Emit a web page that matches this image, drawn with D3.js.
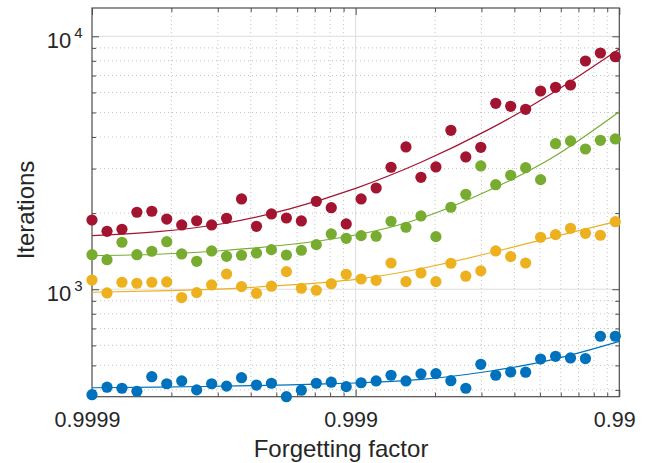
<!DOCTYPE html>
<html>
<head>
<meta charset="utf-8">
<script src="https://cdn.jsdelivr.net/npm/d3@7"></script>
<style>
  body { margin: 0; background: #fff; }
  svg { display: block; }
  text { font-family: "Liberation Sans", Arial, Helvetica, sans-serif; fill: #262626; }
</style>
</head>
<body>
<svg id="chart" width="647" height="463"></svg>
<script>
// 1 - forgetting factor for each run (log-spaced)
const oneMinusLambda = [
  1.000e-4, 1.140e-4, 1.299e-4, 1.480e-4, 1.686e-4, 1.921e-4, 2.189e-4, 2.495e-4, 2.843e-4,
  3.239e-4, 3.691e-4, 4.206e-4, 4.793e-4, 5.462e-4, 6.224e-4, 7.092e-4, 8.082e-4, 9.209e-4,
  1.049e-3, 1.196e-3, 1.362e-3, 1.552e-3, 1.769e-3, 2.016e-3, 2.297e-3, 2.617e-3, 2.983e-3,
  3.399e-3, 3.873e-3, 4.413e-3, 5.029e-3, 5.731e-3, 6.530e-3, 7.441e-3, 8.479e-3, 9.657e-3
];

// Iterations per run, one array per configuration
const itersBlue = [
  383, 410, 406, 395, 451, 423, 434, 400, 423, 414, 447, 418, 425, 376, 399, 425, 429, 412,
  427, 434, 457, 434, 463, 464, 435, 406, 505, 457, 471, 470, 530, 543, 535, 532, 652, 652
];
const itersYellow = [
  1088, 967, 1066, 1056, 1066, 1069, 927, 970, 1040, 1149, 1024, 964, 1028, 1174, 1009, 991, 1052, 1146,
  1098, 1085, 1270, 1072, 1160, 1072, 1267, 1126, 1182, 1417, 1346, 1270, 1605, 1644, 1742, 1664, 1635, 1850
];
const itersGreen = [
  1370, 1309, 1534, 1370, 1413, 1542, 1379, 1290, 1417, 1350, 1363, 1392, 1434, 1366, 1426, 1501, 1654, 1590,
  1629, 1620, 1857, 1758, 1949, 1614, 2110, 2374, 3073, 2591, 2822, 3024, 2712, 3763, 3857, 3585, 3881, 3928
];
const itersRed = [
  1878, 1695, 1727, 2016, 2034, 1895, 1796, 1866, 1796, 1908, 2275, 1774, 1985, 1913, 1862, 2227, 2101, 1812,
  2275, 2514, 3036, 3652, 2771, 3044, 4251, 3334, 3641, 5435, 5288, 5145, 6079, 6287, 6421, 7989, 8590, 8307
];

// Trend curves, sampled every quarter decade of (1 - forgetting factor)
const fitGrid   = [1e-4, 1.778e-4, 3.162e-4, 5.623e-4, 1e-3, 1.778e-3, 3.162e-3, 5.623e-3, 1e-2];
const fitBlue   = [408, 410, 414, 419, 426, 440, 473, 528, 622];
const fitYellow = [973, 985, 1003, 1040, 1095, 1208, 1385, 1610, 1867];
const fitGreen  = [1358, 1375, 1423, 1503, 1639, 1913, 2446, 3334, 5035];
const fitRed    = [1628, 1690, 1820, 2080, 2506, 3184, 4256, 6000, 8913];

// Axis ticks
const xTickValues = [1e-4, 1e-3, 1e-2];
const xTickLabels = ["0.9999", "0.999", "0.99"];
const yTickValues = [1e3, 1e4];
const yTickExponents = ["3", "4"];

const xDomain = [1e-4, 1e-2];
const yDomain = [376, 12940];

const svg = d3.select("#chart");
const box = { left: 92, right: 619.3, top: 8, bottom: 396.7 };

const x = d3.scaleLog().domain(xDomain).range([box.left, box.right]);
const y = d3.scaleLog().domain(yDomain).range([box.bottom, box.top]);

const isDecade = v => Math.abs(Math.log10(v) - Math.round(Math.log10(v))) < 1e-9;
const xMinor = x.ticks().filter(v => !isDecade(v));
const yMinor = y.ticks().filter(v => !isDecade(v));

// Grid: dotted minor lines, solid light major lines
const grid = svg.append("g");
grid.selectAll(".gxm").data(xMinor).join("line")
  .attr("x1", d => x(d)).attr("x2", d => x(d))
  .attr("y1", box.top).attr("y2", box.bottom)
  .attr("stroke", "#c4c4c4").attr("stroke-width", 1).attr("stroke-dasharray", "1,3");
grid.selectAll(".gym").data(yMinor).join("line")
  .attr("x1", box.left).attr("x2", box.right)
  .attr("y1", d => y(d)).attr("y2", d => y(d))
  .attr("stroke", "#c4c4c4").attr("stroke-width", 1).attr("stroke-dasharray", "1,3");
grid.selectAll(".gxM").data(xTickValues.filter(v => v > xDomain[0] && v < xDomain[1])).join("line")
  .attr("x1", d => x(d)).attr("x2", d => x(d))
  .attr("y1", box.top).attr("y2", box.bottom)
  .attr("stroke", "#dedede").attr("stroke-width", 1);
grid.selectAll(".gyM").data(yTickValues).join("line")
  .attr("x1", box.left).attr("x2", box.right)
  .attr("y1", d => y(d)).attr("y2", d => y(d))
  .attr("stroke", "#dedede").attr("stroke-width", 1);

// Axes: ticks on all four sides, pointing inward
function styleAxis(g) {
  g.select(".domain").remove();
  g.selectAll(".tick line").attr("stroke", "#4d4d4d").attr("stroke-width", 1);
}
const h = box.bottom - box.top, w = box.right - box.left;
svg.append("g").attr("transform", `translate(0,${box.bottom})`)
  .call(d3.axisBottom(x).tickValues(xMinor).tickSize(-4).tickFormat("")).call(styleAxis);
svg.append("g").attr("transform", `translate(0,${box.top})`)
  .call(d3.axisTop(x).tickValues(xMinor).tickSize(-4).tickFormat("")).call(styleAxis);
svg.append("g").attr("transform", `translate(0,${box.bottom})`)
  .call(d3.axisBottom(x).tickValues(xTickValues).tickSize(-7).tickFormat("")).call(styleAxis);
svg.append("g").attr("transform", `translate(0,${box.top})`)
  .call(d3.axisTop(x).tickValues(xTickValues).tickSize(-7).tickFormat("")).call(styleAxis);
svg.append("g").attr("transform", `translate(${box.left},0)`)
  .call(d3.axisLeft(y).tickValues(yMinor).tickSize(-4).tickFormat("")).call(styleAxis);
svg.append("g").attr("transform", `translate(${box.right},0)`)
  .call(d3.axisRight(y).tickValues(yMinor).tickSize(-4).tickFormat("")).call(styleAxis);
svg.append("g").attr("transform", `translate(${box.left},0)`)
  .call(d3.axisLeft(y).tickValues(yTickValues).tickSize(-7).tickFormat("")).call(styleAxis);
svg.append("g").attr("transform", `translate(${box.right},0)`)
  .call(d3.axisRight(y).tickValues(yTickValues).tickSize(-7).tickFormat("")).call(styleAxis);

// Box
svg.append("rect")
  .attr("x", box.left).attr("y", box.top).attr("width", w).attr("height", h)
  .attr("fill", "none").attr("stroke", "#4d4d4d").attr("stroke-width", 1.2);

// Tick labels
svg.append("g").selectAll("text").data(xTickValues).join("text")
  .attr("x", d => x(d) - 4.5).attr("y", box.bottom + 30)
  .attr("text-anchor", "middle").attr("font-size", 21.5)
  .text((d, i) => xTickLabels[i]);

const yl = svg.append("g").selectAll("text").data(yTickValues).join("text")
  .attr("x", box.left - 9.5).attr("y", d => y(d) + 11.4)
  .attr("text-anchor", "end").attr("font-size", 22);
yl.append("tspan").text("10");
yl.append("tspan").attr("dx", 3).attr("dy", -9.5).attr("font-size", 15)
  .text((d, i) => yTickExponents[i]);

// Axis titles
svg.append("text")
  .attr("x", 341).attr("y", 456.5)
  .attr("text-anchor", "middle").attr("font-size", 24)
  .text("Forgetting factor");
svg.append("text")
  .attr("transform", "translate(33.5,210) rotate(-90)")
  .attr("text-anchor", "middle").attr("font-size", 24)
  .text("Iterations");

// Series: markers plus trend curve
const series = [
  { pts: itersBlue,   fit: fitBlue,   color: "#0072BD" },
  { pts: itersYellow, fit: fitYellow, color: "#EDB120" },
  { pts: itersGreen,  fit: fitGreen,  color: "#77AC30" },
  { pts: itersRed,    fit: fitRed,    color: "#A2142F" }
];

const line = d3.line()
  .x(d => x(d[0])).y(d => y(d[1]))
  .curve(d3.curveNatural);

series.forEach(s => {
  const g = svg.append("g");
  g.selectAll("circle").data(oneMinusLambda.map((v, i) => [v, s.pts[i]])).join("circle")
    .attr("cx", d => x(d[0])).attr("cy", d => y(d[1])).attr("r", 5.6)
    .attr("fill", s.color);
  g.append("path")
    .datum(fitGrid.map((v, i) => [v, s.fit[i]]))
    .attr("d", line)
    .attr("fill", "none").attr("stroke", s.color).attr("stroke-width", 1.2);
});
</script>
</body>
</html>
